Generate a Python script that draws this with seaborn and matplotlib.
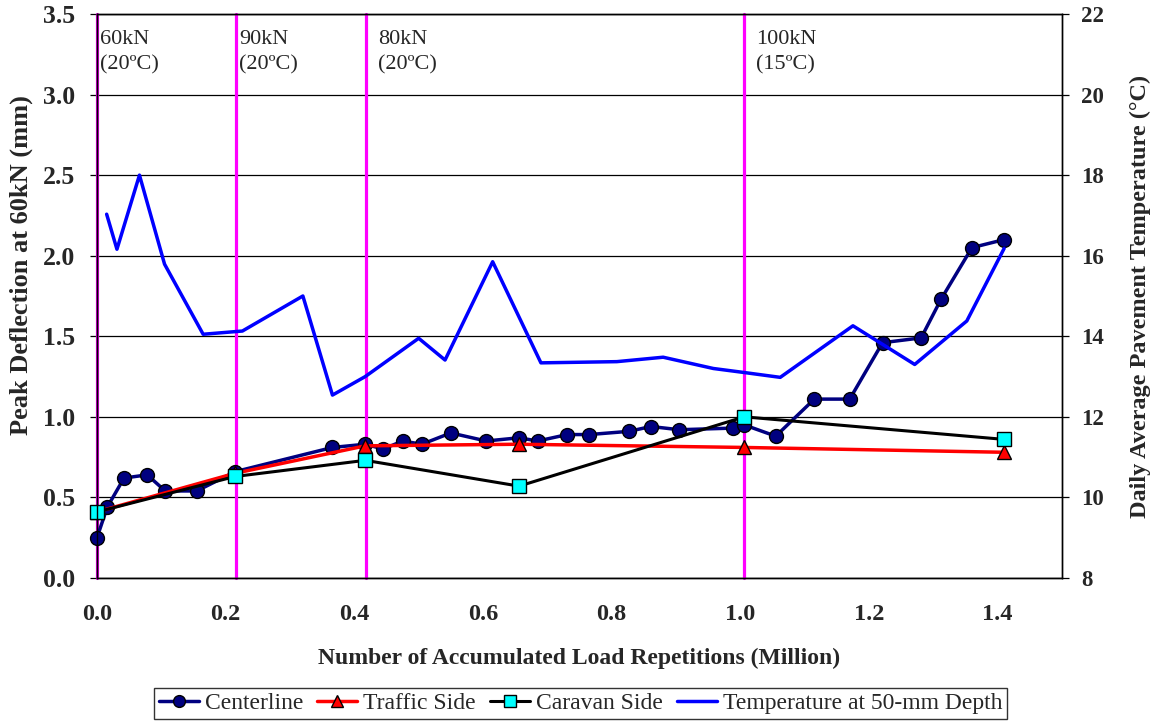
import numpy as np
import pandas as pd
import matplotlib
matplotlib.use("Agg")
import matplotlib.pyplot as plt
import seaborn as sns

# Peak deflection at 60 kN along three survey lines (mm) vs accumulated load repetitions (million)
center_x = [0.000, 0.016, 0.042, 0.078, 0.106, 0.155, 0.215, 0.366, 0.417, 0.445,
            0.475, 0.505, 0.550, 0.605, 0.656, 0.685, 0.731, 0.765, 0.827, 0.861,
            0.905, 0.988, 1.006, 1.055, 1.115, 1.170, 1.221, 1.281, 1.312, 1.360, 1.410]
center_y = [0.25, 0.44, 0.62, 0.64, 0.54, 0.54, 0.66, 0.81, 0.83, 0.80,
            0.85, 0.83, 0.90, 0.85, 0.87, 0.85, 0.89, 0.89, 0.91, 0.94,
            0.92, 0.93, 0.95, 0.88, 1.11, 1.11, 1.46, 1.49, 1.73, 2.05, 2.10]

traffic_x = [0.000, 0.215, 0.417, 0.656, 1.006, 1.410]
traffic_y = [0.41, 0.65, 0.82, 0.83, 0.81, 0.78]

caravan_x = [0.000, 0.215, 0.417, 0.656, 1.006, 1.410]
caravan_y = [0.41, 0.63, 0.73, 0.57, 1.00, 0.86]

# Daily average pavement temperature at 50-mm depth (°C)
temp_x = [0.015, 0.031, 0.066, 0.105, 0.165, 0.226, 0.320, 0.366, 0.417, 0.500,
          0.541, 0.615, 0.690, 0.808, 0.880, 0.958, 1.006, 1.062, 1.175, 1.271,
          1.352, 1.410]
temp_y = [17.03, 16.16, 18.0, 15.79, 14.05, 14.13, 15.0, 12.54, 13.0, 13.95,
          13.41, 15.85, 13.34, 13.37, 13.48, 13.2, 13.1, 12.98, 14.26, 13.3,
          14.38, 16.18]

# Load stages (start of each loading phase)
stage_x = [0.0, 0.2155, 0.4175, 1.006]
stage_load = ["60kN", "90kN", "80kN", "100kN"]
stage_temp = ["(20ºC)", "(20ºC)", "(20ºC)", "(15ºC)"]

x_ticks = [0.0, 0.2, 0.4, 0.6, 0.8, 1.0, 1.2, 1.4]
y_ticks = [0.0, 0.5, 1.0, 1.5, 2.0, 2.5, 3.0, 3.5]
t_ticks = [8, 10, 12, 14, 16, 18, 20, 22]

sns.set_style("white")
plt.rcParams["font.family"] = ["Liberation Serif", "DejaVu Serif"]
plt.rcParams["axes.unicode_minus"] = False

fig = plt.figure(figsize=(11.52, 7.25), dpi=100)
ax = fig.add_axes([0.0842, 0.2028, 0.8377, 0.7779])
ax2 = ax.twinx()

# stage boundaries
for sx in stage_x:
    ax.axvline(sx, color="#FF00FF", lw=2.3, zorder=1.5, clip_on=False)

# horizontal gridlines on the deflection axis
for yv in y_ticks:
    ax.axhline(yv, color="black", lw=0.9, zorder=1)

df_c = pd.DataFrame({"x": center_x, "y": center_y})
df_t = pd.DataFrame({"x": traffic_x, "y": traffic_y})
df_v = pd.DataFrame({"x": caravan_x, "y": caravan_y})
df_T = pd.DataFrame({"x": temp_x, "y": temp_y})

sns.lineplot(data=df_c, x="x", y="y", ax=ax, sort=False, estimator=None,
             color="#000080", lw=2.5, marker="o", markersize=10,
             markerfacecolor="#000080", markeredgecolor="black", markeredgewidth=1,
             label="Centerline", zorder=3, clip_on=False)
sns.lineplot(data=df_t, x="x", y="y", ax=ax, sort=False, estimator=None,
             color="#FF0000", lw=2.5, marker="^", markersize=10,
             markerfacecolor="#FF0000", markeredgecolor="black", markeredgewidth=1,
             label="Traffic Side", zorder=4, clip_on=False)
sns.lineplot(data=df_v, x="x", y="y", ax=ax, sort=False, estimator=None,
             color="black", lw=2.2, marker="s", markersize=10,
             markerfacecolor="#00FFFF", markeredgecolor="black", markeredgewidth=1,
             label="Caravan Side", zorder=5, clip_on=False)
sns.lineplot(data=df_T, x="x", y="y", ax=ax2, sort=False, estimator=None,
             color="#0000FF", lw=2.5, label="Temperature at 50-mm Depth")

for sx, load, tmp in zip(stage_x, stage_load, stage_temp):
    off = 0.005 if sx < 0.3 else 0.019
    ax.text(sx + off, 3.40, f"{load}\n{tmp}", ha="left", va="top",
            fontsize=16, linespacing=1.45, zorder=6)

ax.set_xlim(0, 1.5)
ax.set_ylim(0, 3.5)
ax2.set_ylim(8, 22)
ax.set_xticks(x_ticks)
ax.set_xticklabels([f"{v:.1f}" for v in x_ticks])
ax.set_yticks(y_ticks)
ax.set_yticklabels([f"{v:.1f}" for v in y_ticks])
ax2.set_yticks(t_ticks)
ax2.set_yticklabels([str(v) for v in t_ticks])

for a in (ax, ax2):
    for s in a.spines.values():
        s.set_color("black")
        s.set_linewidth(1.0)
        s.set_visible(True)

ax.tick_params(axis="x", direction="inout", length=11, width=0.9, color="black",
               labelsize=17.5, pad=13)
ax.tick_params(axis="y", direction="out", length=5, width=0.9, color="black",
               labelsize=18.5, left=True, pad=11)
ax2.tick_params(axis="y", direction="out", length=5, width=0.9, color="black",
                labelsize=16.5, right=True, pad=9)
for lab in ax.get_xticklabels() + ax.get_yticklabels() + ax2.get_yticklabels():
    lab.set_fontweight("bold")

ax.set_xlabel("Number of Accumulated Load Repetitions (Million)", fontsize=17,
              fontweight="bold", labelpad=17)
ax.set_ylabel("Peak Deflection at 60kN (mm)", fontsize=19, fontweight="bold", labelpad=3)
ax.yaxis.set_label_coords(-0.066, 0.555)
ax2.set_ylabel("Daily Average Pavement Temperature (°C)", fontsize=17.5,
               fontweight="bold", labelpad=18)

h1, l1 = ax.get_legend_handles_labels()
h2, l2 = ax2.get_legend_handles_labels()
for a in (ax, ax2):
    if a.get_legend() is not None:
        a.get_legend().remove()
leg = fig.legend(h1 + h2, l1 + l2, loc="center", bbox_to_anchor=(0.504, 0.0295),
                 ncol=4, fontsize=17, frameon=True, fancybox=False,
                 edgecolor="black", handlelength=1.7, handletextpad=0.25,
                 columnspacing=0.6, borderpad=0.2, markerscale=0.85)
leg.get_frame().set_linewidth(1.0)

fig.savefig("out.png", dpi=100)
